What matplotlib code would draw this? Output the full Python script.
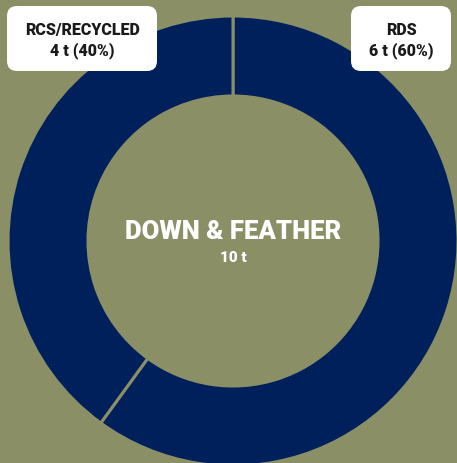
import matplotlib
matplotlib.use("Agg")
import matplotlib.pyplot as plt
from matplotlib.patches import FancyBboxPatch

# down & feather volumes by certification
labels = ["RDS", "RCS/RECYCLED"]
tonnes = [6, 4]
total_label = "DOWN & FEATHER"
total_tonnes = sum(tonnes)

bg = "#8a8f66"
navy = "#00205b"

W, H = 457, 464
fig = plt.figure(figsize=(W / 100, H / 100), dpi=100, facecolor=bg)
ax = fig.add_axes([0, 0, 1, 1])
ax.set_aspect("equal")
ax.axis("off")

cx, cy = 233, H - 242
r_out, r_in = 225, 145
ax.pie(tonnes, colors=[navy, navy], startangle=90, counterclock=False,
       center=(cx, cy), radius=r_out,
       wedgeprops=dict(width=r_out - r_in, edgecolor=bg, linewidth=2.2))
ax.set_xlim(0, W)
ax.set_ylim(0, H)

font = dict(family=["Roboto", "DejaVu Sans"], fontweight="heavy")

ax.text(cx, H - 232, total_label, ha="center", va="center", color="white",
        fontsize=18.5, **font)
ax.text(cx, H - 258, f"{total_tonnes} t", ha="center", va="center",
        color="white", fontsize=11, **font)

# callout boxes for each segment
boxes = {"RCS/RECYCLED": (7, 157), "RDS": (351, 451)}
for name, t in zip(labels, tonnes):
    x0, x1 = boxes[name]
    y0, y1 = H - 72, H - 7
    ax.add_patch(FancyBboxPatch((x0 + 10, y0 + 10), x1 - x0 - 20, y1 - y0 - 20,
                                boxstyle="round,pad=10", facecolor="white",
                                edgecolor="none", zorder=3))
    pct = round(100 * t / total_tonnes)
    xc = (x0 + x1) / 2
    ax.text(xc, H - 30, name, ha="center", va="center", color="#1a1a1a",
            fontsize=11.5, zorder=4, **font)
    ax.text(xc, H - 51, f"{t} t ({pct}%)", ha="center", va="center",
            color="#1a1a1a", fontsize=11.5, zorder=4, **font)

fig.savefig("out.png", dpi=100, facecolor=bg)
